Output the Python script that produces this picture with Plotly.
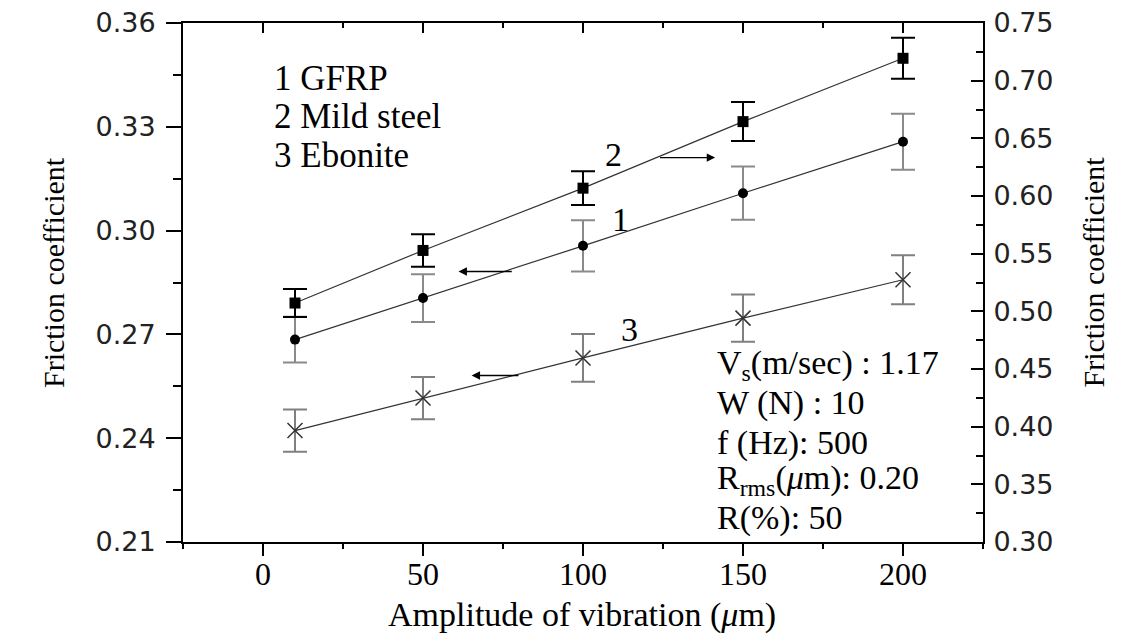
import plotly.graph_objects as go

# ---- data ----
amplitude = [10, 50, 100, 150, 200]

gfrp = [0.2685, 0.2805, 0.2956, 0.3108, 0.3257]          # 1, left axis
gfrp_err = [0.0066, 0.0069, 0.0074, 0.0077, 0.0081]

mild_steel = [0.5072, 0.5528, 0.6068, 0.6645, 0.7194]    # 2, right axis
mild_steel_err = [0.0121, 0.0141, 0.0147, 0.0169, 0.0178]

ebonite = [0.2422, 0.2516, 0.2632, 0.2747, 0.2858]       # 3, left axis
ebonite_err = [0.0061, 0.0061, 0.0069, 0.0068, 0.0071]

x_ticks = [0, 50, 100, 150, 200]
left_ticks = [0.21, 0.24, 0.27, 0.30, 0.33, 0.36]
right_ticks = [0.30, 0.35, 0.40, 0.45, 0.50, 0.55, 0.60, 0.65, 0.70, 0.75]

legend_lines = ["1 GFRP", "2 Mild steel", "3 Ebonite"]
condition_lines = [
    "V<sub>s</sub>(m/sec) : 1.17",
    "W (N) : 10",
    "f (Hz): 500",
    "R<sub>rms</sub>(<i>μ</i>m): 0.20",
    "R(%): 50",
]

# curve labels (number, x, y on left axis) and arrows (tail x, head x, y on left axis)
curve_labels = [("2", 109.4, 0.3219), ("1", 111.6, 0.3031), ("3", 114.5, 0.2714)]
arrows = [(123.6, 141.3, 0.3211), (78.2, 61.1, 0.2882), (80.3, 65.2, 0.2581)]

SERIF = "Liberation Serif, Times New Roman, serif"
SANS = "DejaVu Sans, Verdana, sans-serif"
LINE = "#333333"

fig = go.Figure()

fig.add_trace(go.Scatter(
    x=amplitude, y=gfrp, mode="lines+markers", yaxis="y",
    line=dict(color=LINE, width=1.2),
    marker=dict(symbol="circle", size=10, color="black"),
    error_y=dict(type="data", array=gfrp_err, color="#8a8a8a", thickness=2, width=12),
    showlegend=False,
))
fig.add_trace(go.Scatter(
    x=amplitude, y=mild_steel, mode="lines+markers", yaxis="y2",
    line=dict(color=LINE, width=1.2),
    marker=dict(symbol="square", size=11, color="black"),
    error_y=dict(type="data", array=mild_steel_err, color="black", thickness=2, width=12),
    showlegend=False,
))
# ebonite is plotted against the (identical) top x axis so that axis is drawn
fig.add_trace(go.Scatter(
    x=amplitude, y=ebonite, mode="lines+markers", xaxis="x2", yaxis="y",
    line=dict(color=LINE, width=1.2),
    marker=dict(symbol="x-thin-open", size=15, color="#333333",
                line=dict(color="#333333", width=1.5)),
    error_y=dict(type="data", array=ebonite_err, color="#808080", thickness=2, width=12),
    showlegend=False,
))

annotations = []
# legend text
legend_y = [0.894, 0.819, 0.744]
for txt, yy in zip(legend_lines, legend_y):
    annotations.append(dict(text=txt, xref="paper", yref="paper", x=0.111, y=yy,
                            xanchor="left", yanchor="middle", showarrow=False,
                            font=dict(family=SERIF, size=35, color="black")))
# experimental conditions
cond_y = [0.3415, 0.2685, 0.1915, 0.1203, 0.0472]
for txt, yy in zip(condition_lines, cond_y):
    annotations.append(dict(text=txt, xref="paper", yref="paper", x=0.665, y=yy,
                            xanchor="left", yanchor="middle", showarrow=False,
                            font=dict(family=SERIF, size=34, color="black")))
# curve numbers
for txt, xx, yy in curve_labels:
    annotations.append(dict(text=txt, xref="x", yref="y", x=xx, y=yy,
                            xanchor="center", yanchor="middle", showarrow=False,
                            font=dict(family=SERIF, size=34, color="black")))
# arrows
for tail, head, yy in arrows:
    annotations.append(dict(text="", xref="x", yref="y", x=head, y=yy,
                            axref="x", ayref="y", ax=tail, ay=yy,
                            showarrow=True, arrowhead=2, arrowsize=1.2,
                            arrowwidth=1.4, arrowcolor="black"))
# axis titles
annotations.append(dict(text="Amplitude of vibration (<i>μ</i>m)", xref="paper", yref="paper",
                        x=0.499, y=-0.140, xanchor="center", yanchor="middle",
                        showarrow=False, font=dict(family=SERIF, size=34, color="black")))
annotations.append(dict(text="Friction coefficient", xref="paper", yref="paper",
                        x=-0.1626, y=0.52, xanchor="center", yanchor="middle", textangle=-90,
                        showarrow=False, font=dict(family=SERIF, size=30, color="black")))
annotations.append(dict(text="Friction coefficient", xref="paper", yref="paper",
                        x=1.138, y=0.52, xanchor="center", yanchor="middle", textangle=-90,
                        showarrow=False, font=dict(family=SERIF, size=30, color="black")))

# the page body keeps its default 8px margin, so the figure is sized to fit inside it
fig.update_layout(
    width=1124, height=627,
    margin=dict(l=175, r=149, t=15, b=92.5, autoexpand=False),
    paper_bgcolor="white", plot_bgcolor="white",
    showlegend=False,
    annotations=annotations,
    xaxis=dict(
        range=[-25, 225], tickvals=x_ticks, ticks="outside", ticklen=12, tickwidth=2,
        tickcolor="black", showline=True, linecolor="black", linewidth=2,
        showgrid=False, zeroline=False, ticklabeloverflow="allow", automargin=False,
        tickfont=dict(family=SERIF, size=32, color="black"), ticklabelstandoff=-9,
        minor=dict(dtick=25, tick0=0, ticks="outside", ticklen=5, tickwidth=2, tickcolor="black"),
    ),
    xaxis2=dict(
        range=[-25, 225], overlaying="x", side="top", anchor="y",
        tickvals=x_ticks, ticks="inside", ticklen=10, tickwidth=2, tickcolor="black",
        showticklabels=False, showline=True, linecolor="black", linewidth=2,
        showgrid=False, zeroline=False, automargin=False,
        minor=dict(dtick=25, tick0=0, ticks="inside", ticklen=5, tickwidth=2, tickcolor="black"),
    ),
    yaxis=dict(
        range=[0.21, 0.36], tickvals=left_ticks, tickformat=".2f",
        ticks="outside", ticklen=15, tickwidth=2, tickcolor="black",
        showline=True, linecolor="black", linewidth=2, showgrid=False, zeroline=False,
        ticklabeloverflow="allow", automargin=False,
        tickfont=dict(family=SANS, size=27, color="#222222"), ticklabelstandoff=5,
        minor=dict(dtick=0.015, tick0=0.21, ticks="outside", ticklen=8, tickwidth=2, tickcolor="black"),
    ),
    yaxis2=dict(
        range=[0.30, 0.75], tickvals=right_ticks, tickformat=".2f",
        overlaying="y", side="right", anchor="x",
        ticks="inside", ticklen=12, tickwidth=2, tickcolor="black",
        showline=True, linecolor="black", linewidth=2, showgrid=False, zeroline=False,
        ticklabeloverflow="allow", automargin=False,
        tickfont=dict(family=SANS, size=27, color="#222222"), ticklabelstandoff=3,
        minor=dict(dtick=0.025, tick0=0.30, ticks="inside", ticklen=7, tickwidth=2, tickcolor="black"),
    ),
)

fig.write_html("out.html")
